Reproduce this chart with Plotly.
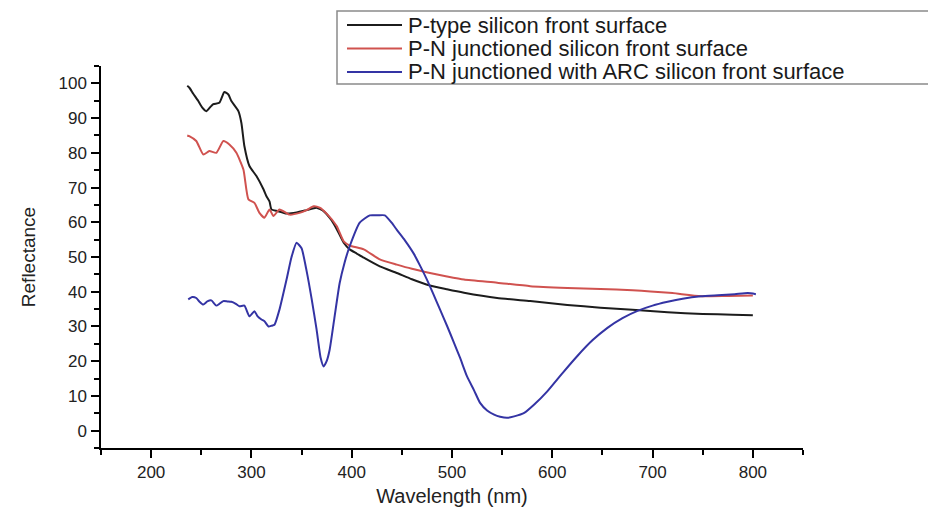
import plotly.graph_objects as go

# ---- data ----
wl_black = [236, 238, 242, 247, 251, 255, 259, 262, 268, 273, 277, 280, 287, 290, 293, 298, 305, 312, 315, 318,
            320, 326, 335, 345, 355, 365, 372, 380, 386, 392, 398, 405, 412, 428, 445, 460, 478, 495, 512, 545,
            578, 615, 648, 680, 715, 750, 780, 800]
ptype = [99.3, 98.8, 97.0, 94.9, 93.0, 92.0, 93.2, 94.0, 94.4, 97.5, 96.8, 94.9, 92.0, 88.6, 81.9, 76.2, 73.3,
         69.5, 67.5, 66.0, 63.7, 63.2, 62.5, 62.8, 63.5, 64.2, 63.2, 60.5, 57.5, 54.1, 52.2, 51.0, 49.8, 47.3,
         45.4, 43.6, 41.8, 40.7, 39.7, 38.2, 37.3, 36.2, 35.4, 34.8, 34.1, 33.6, 33.4, 33.2]

wl_red = [236, 238, 245, 252, 258, 265, 272, 278, 285, 292, 297, 303, 308, 313, 318, 322, 328, 338, 348, 355,
          362, 368, 375, 385, 392, 398, 412, 428, 445, 460, 478, 495, 512, 545, 578, 615, 648, 680, 698, 720,
          748, 775, 800]
pn = [85.0, 84.8, 83.4, 79.5, 80.5, 80.0, 83.4, 82.4, 80.0, 75.2, 66.6, 65.6, 62.7, 61.3, 63.7, 61.8, 63.7,
      62.2, 62.7, 63.5, 64.6, 64.2, 62.5, 58.9, 54.5, 53.3, 52.2, 49.3, 47.8, 46.6, 45.4, 44.4, 43.5, 42.6, 41.6,
      41.1, 40.8, 40.4, 40.1, 39.6, 38.7, 38.8, 38.9]

wl_blue = [237, 241, 245, 248, 252, 256, 260, 265, 268, 272, 276, 280, 284, 288, 293, 298, 303, 306, 310, 313,
           317, 320, 323, 328, 335, 340, 345, 350, 355, 360, 365, 369, 372, 375, 378, 383, 388, 393, 398, 408,
           418, 426, 433, 440, 445, 453, 462, 468, 475, 481, 488, 495, 502, 508, 515, 522, 528, 535, 542, 548,
           555, 562, 572, 582, 595, 610, 625, 640, 655, 670, 685, 700, 715, 730, 748, 765, 782, 795, 803]
pn_arc = [37.8, 38.5, 38.2, 37.2, 36.3, 37.2, 37.5, 36.0, 36.5, 37.3, 37.2, 37.1, 36.6, 35.8, 36.0, 32.9, 34.4,
          33.0, 32.0, 31.5, 30.0, 30.2, 30.5, 34.9, 43.5, 50.0, 54.1, 52.5, 46.0, 38.0, 29.1, 21.0, 18.5, 20.0,
          23.3, 33.0, 42.5, 48.5, 53.1, 59.9, 62.0, 62.0, 62.0, 59.8, 57.8, 54.8, 50.9, 47.6, 43.5, 39.6, 34.9,
          30.2, 25.3, 21.0, 15.6, 11.6, 8.0, 5.8, 4.6, 4.0, 3.7, 4.1, 5.1, 7.5, 11.3, 16.5, 21.5, 26.0, 29.6, 32.4,
          34.5, 36.0, 37.1, 38.0, 38.7, 39.0, 39.3, 39.6, 39.3]

names = ["P-type silicon front surface",
         "P-N junctioned silicon front surface",
         "P-N junctioned with ARC silicon front surface"]
x_ticks = [200, 300, 400, 500, 600, 700, 800]
y_ticks = [0, 10, 20, 30, 40, 50, 60, 70, 80, 90, 100]

colors = ["#1c1c1c", "#d0524f", "#3434a4"]
FONT = "Liberation Sans, Arial, sans-serif"

W, H = 928, 511
ML, MR, MT, MB = 101, 125, 66, 63
PW, PH = W - ML - MR, H - MT - MB


def px_x(p):  # pixel -> paper x
    return (p - ML) / PW


def px_y(p):  # pixel -> paper y
    return (H - MB - p) / PH


fig = go.Figure()
series = [(wl_black, ptype), (wl_red, pn), (wl_blue, pn_arc)]
for (xs, ys), nm, c in zip(series, names, colors):
    fig.add_trace(go.Scatter(x=xs, y=ys, name=nm, mode="lines", showlegend=False,
                             line=dict(color=c, width=2, shape="spline", smoothing=0.5)))

# legend (drawn to match the reference's tight boxed legend)
shapes = [dict(type="rect", xref="paper", yref="paper", x0=px_x(337), x1=px_x(940),
               y0=px_y(84), y1=px_y(11), line=dict(color="#8a8a8a", width=1.5),
               fillcolor="white", layer="above")]
annotations = []
row_y = [25, 48.5, 72]
for nm, c, ry in zip(names, colors, row_y):
    shapes.append(dict(type="line", xref="paper", yref="paper", x0=px_x(347), x1=px_x(402),
                       y0=px_y(ry), y1=px_y(ry), line=dict(color=c, width=2), layer="above"))
    annotations.append(dict(text=nm, xref="paper", yref="paper", x=px_x(406), y=px_y(ry),
                            xanchor="left", yanchor="middle", showarrow=False,
                            font=dict(family=FONT, size=22, color="#1a1a1a")))

axis_common = dict(showline=True, linecolor="black", linewidth=1.5, ticks="outside", ticklen=8,
                   tickwidth=1.5, tickcolor="black", showgrid=False, zeroline=False,
                   tickfont=dict(family=FONT, size=17, color="#222"))

fig.update_layout(
    width=W, height=H,
    margin=dict(l=ML, r=MR, t=MT, b=MB, autoexpand=False),
    paper_bgcolor="white", plot_bgcolor="white",
    font=dict(family=FONT, color="#222"),
    xaxis=dict(range=[150, 850], tickvals=x_ticks, ticktext=[str(v) for v in x_ticks],
               minor=dict(dtick=50, tick0=0, ticks="outside", ticklen=5, tickwidth=1.5, tickcolor="black"),
               title=dict(text="Wavelength (nm)", font=dict(family=FONT, size=20, color="#222"), standoff=8),
               automargin=False, ticklabelstandoff=0, **axis_common),
    yaxis=dict(range=[-5, 105], tickvals=y_ticks, ticktext=[str(v) for v in y_ticks],
               minor=dict(dtick=5, tick0=0, ticks="outside", ticklen=5, tickwidth=1.5, tickcolor="black"),
               title=dict(text="Reflectance", font=dict(family=FONT, size=19, color="#222"), standoff=18),
               automargin=False, ticklabelstandoff=1, **axis_common),
    shapes=shapes,
    annotations=annotations,
    showlegend=False,
)

fig.write_html("out.html")
